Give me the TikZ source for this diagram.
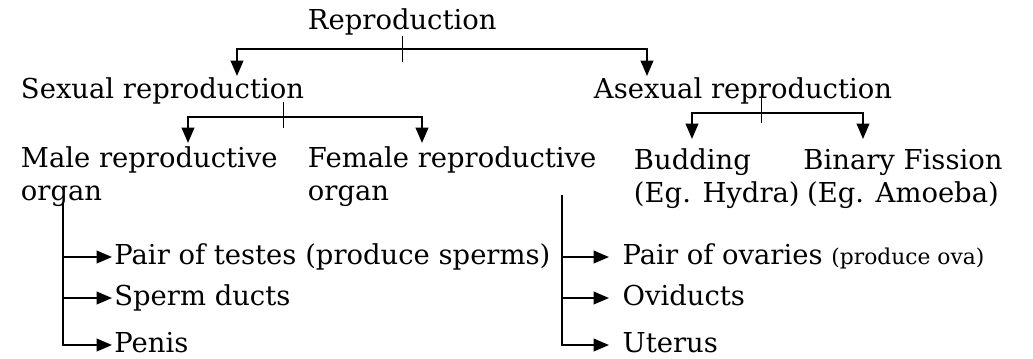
\documentclass[tikz,border=0pt]{standalone}
\usepackage{fontspec}
\setmainfont{DejaVu Serif}
\usetikzlibrary{arrows.meta, positioning, calc}

\begin{document}
\begin{tikzpicture}[x=0.025cm, y=-0.025cm, >={Triangle[length=11pt, width=9pt]},
      line width=1.4pt,
      txt/.style={anchor=base west, inner sep=0pt, font=\fontsize{19.5}{23.4}\selectfont},
      leaf/.style={anchor=west, inner ysep=0pt, inner xsep=1pt, text height=14pt,
                   text depth=4pt, font=\fontsize{19.5}{23.4}\selectfont},
      tick/.style={line width=0.7pt}]
    \useasboundingbox (0,0) rectangle (1033,358);
    \node[txt] (rep) at (307,29) {Reproduction};
    \node[txt] (sex) at (20,98) {Sexual reproduction};
    \node[txt] (asex) at (593,98) {Asexual reproduction};
    \node[txt, align=left] (male) at (20,200) {Male reproductive\\organ};
    \node[txt, align=left] (fem) at (307,200) {Female reproductive\\organ};
    \node[txt, align=left] (bud) at (633,202) {Budding\\(Eg. Hydra)};
    \node[txt, align=center, anchor=base] (fis) at (903,202) {Binary Fission\\(Eg. Amoeba)};
    \node[leaf] (tes) at (112,257) {Pair of testes (produce sperms)};
    \node[leaf] (duc) at (112,298) {Sperm ducts};
    \node[leaf] (pen) at (112,345) {Penis};
    \node[leaf, inner xsep=9pt] (ova) at (609,257) {Pair of ovaries {\fontsize{15.5}{18}\selectfont(produce ova)}};
    \node[leaf, inner xsep=9pt] (ovi) at (609,298) {Oviducts};
    \node[leaf, inner xsep=9pt] (ute) at (609,345) {Uterus};
    \coordinate (f1) at (405,49);
    \coordinate (sexin) at (237,76);
    \coordinate (asexin) at (647,76);
    \draw[tick] (rep.south) -- ++(0,26);
    \draw[->] (f1) -| (sexin); \draw[->] (f1) -| (asexin);
    \coordinate (f2) at (283,117);
    \coordinate (malein) at (188,143);
    \coordinate (femin) at (422,143);
    \draw[tick] (f2) ++(0,-15) -- ++(0,26);
    \draw[->] (f2) -| (malein); \draw[->] (f2) -| (femin);
    \coordinate (f3) at (761,113);
    \coordinate (budin) at (692,139);
    \coordinate (fisin) at (863,139);
    \draw[tick] (f3) ++(0,-16) -- ++(0,26);
    \draw[->] (f3) -| (budin); \draw[->] (f3) -| (fisin);
    \coordinate (mtop) at (63,203);
    \draw[->] (mtop) |- (tes.west); \draw[->] (mtop) |- (duc.west);
    \draw[->] (mtop) |- (pen.west);
    \coordinate (ftop) at (562,195);
    \draw[->] (ftop) |- (ova.west); \draw[->] (ftop) |- (ovi.west);
    \draw[->] (ftop) |- (ute.west);
  \end{tikzpicture}
\end{document}
